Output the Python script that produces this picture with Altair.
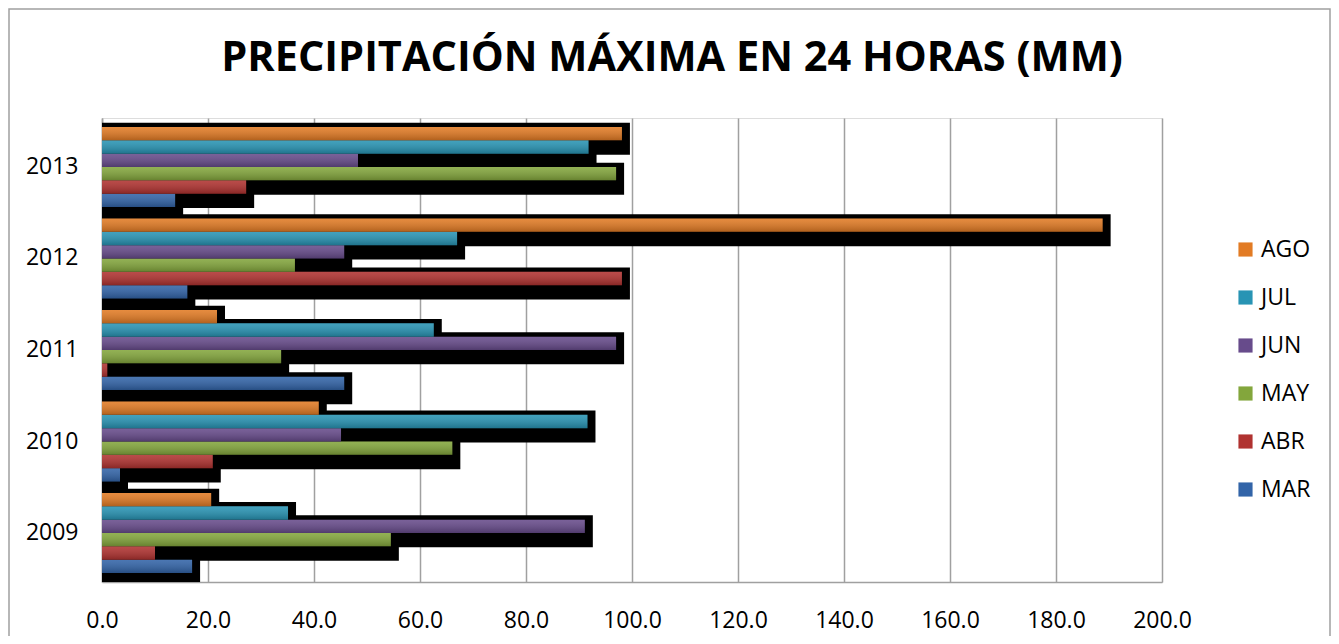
import altair as alt
import pandas as pd

years = ["2009", "2010", "2011", "2012", "2013"]
months = ["MAR", "ABR", "MAY", "JUN", "JUL", "AGO"]
mar = [17.0, 3.4, 45.7, 16.1, 13.8]
abr = [10.0, 20.9, 1.0, 98.1, 27.2]
may = [54.5, 66.1, 33.8, 36.4, 97.0]
jun = [91.1, 45.1, 97.0, 45.7, 48.3]
jul = [35.1, 91.6, 62.6, 67.0, 91.8]
ago = [20.6, 40.9, 21.7, 188.8, 98.1]
x_ticks = [0, 20, 40, 60, 80, 100, 120, 140, 160, 180, 200]
legend_order = ["AGO", "JUL", "JUN", "MAY", "ABR", "MAR"]
legend_colors = ["#E27B24", "#2894B4", "#674B8B", "#83A63C", "#B03230", "#3264A8"]

series = {"MAR": mar, "ABR": abr, "MAY": may, "JUN": jun, "JUL": jul, "AGO": ago}
rows = []
for m in months:
    for y, v in zip(years, series[m]):
        rows.append({"year": y, "month": m, "value": v})
df = pd.DataFrame(rows)

FONT = "Open Sans"

x_enc = alt.X(
    "value:Q",
    scale=alt.Scale(domain=[0, 200]),
    axis=alt.Axis(
        values=x_ticks, format=".1f", title=None, ticks=False, grid=True,
        gridColor="#a0a0a0", gridWidth=1.5, domainColor="#a0a0a0", domainWidth=1.5,
        labelFont=FONT, labelFontSize=23, labelColor="black", labelPadding=27,
        labelFlush=False,
    ),
)
y_enc = alt.Y(
    "year:N",
    sort=years[::-1],
    scale=alt.Scale(paddingInner=0.125, paddingOuter=0.098),
    axis=alt.Axis(
        title=None, ticks=False, domainColor="#a0a0a0", domainWidth=1.5,
        labelFont=FONT, labelFontSize=23, labelColor="black", labelPadding=24,
    ),
)

base = alt.Chart(df)

shadow = base.mark_bar(color="black", height=32, xOffset=8, clip=True).encode(
    x=x_enc,
    x2=alt.datum(0),
    y=y_enc,
    yOffset=alt.YOffset("month:N", sort=legend_order,
                        scale=alt.Scale(range=[5, 85], paddingInner=0, paddingOuter=0)),
)

bars = base.mark_bar().encode(
    x=x_enc,
    y=y_enc,
    yOffset=alt.YOffset("month:N", sort=legend_order,
                        scale=alt.Scale(paddingInner=0, paddingOuter=0)),
    color=alt.Color(
        "month:N",
        scale=alt.Scale(domain=legend_order, range=legend_colors),
        legend=alt.Legend(
            title=None, orient="none", legendX=1132, legendY=120,
            symbolType="square", symbolSize=200, symbolStrokeWidth=0,
            labelFont=FONT, labelFontSize=23, labelColor="black",
            labelOffset=4, rowPadding=24,
        ),
    ),
)

grad = alt.LinearGradient(
    gradient="linear",
    stops=[
        alt.GradientStop(color="rgba(255,255,255,0.12)", offset=0),
        alt.GradientStop(color="rgba(0,0,0,0.22)", offset=1),
    ],
    x1=0, x2=0, y1=0, y2=1,
)
overlay = base.mark_bar(fill=grad).encode(
    x=x_enc,
    y=y_enc,
    yOffset=alt.YOffset("month:N", sort=legend_order,
                        scale=alt.Scale(paddingInner=0, paddingOuter=0)),
)

frame = alt.Chart(alt.Data(values=[{}])).mark_rect(
    fill="transparent", stroke="#a0a0a0", strokeWidth=1.5, clip=False
).encode(
    x=alt.value(-93), x2=alt.value(1228), y=alt.value(-109), y2=alt.value(530)
)

chart = alt.layer(frame, shadow, bars, overlay).resolve_scale(
    yOffset="independent"
).properties(
    width=1060,
    height=464,
    autosize=alt.AutoSizeParams(type="none"),
    padding={"left": 94, "top": 110, "right": 169, "bottom": 54},
    title=alt.Title(
        "PRECIPITACIÓN MÁXIMA EN 24 HORAS (MM)",
        font=FONT, fontSize=41.5, fontWeight="bold", color="black",
        anchor="middle", dx=40, offset=-104, baseline="alphabetic",
    ),
).configure_view(stroke=None).configure(background="white")

chart.save("out.html", embed_options={"renderer": "svg", "actions": False})
